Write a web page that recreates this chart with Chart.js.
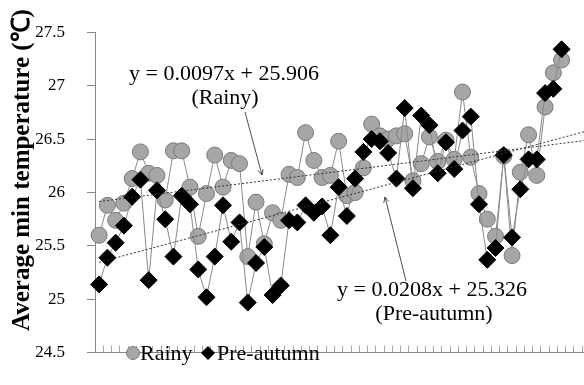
<!DOCTYPE html>
<html>
<head>
<meta charset="utf-8">
<script src="https://cdn.jsdelivr.net/npm/chart.js@4"></script>
<style>
  html, body { margin: 0; padding: 0; background: #fff; overflow: hidden; }
  #wrap { width: 584px; height: 385px; overflow: hidden; }
</style>
</head>
<body>
<div id="wrap"><canvas id="tempChart" width="600" height="385"></canvas></div>
<script>
// Average min temperature per year
const rainy = [
  25.60, 25.88, 25.74, 25.90, 26.13, 26.38, 26.18, 26.16, 25.93, 26.39,
  26.39, 26.05, 25.59, 25.99, 26.35, 26.05, 26.30, 26.27, 25.40, 25.91,
  25.52, 25.81, 25.74, 26.17, 26.14, 26.56, 26.30, 26.14, 26.16, 26.48,
  25.97, 26.00, 26.23, 26.64, 26.53, 26.50, 26.53, 26.55, 26.11, 26.27,
  26.52, 26.29, 26.49, 26.31, 26.94, 26.33, 25.99, 25.75, 25.59, 26.34,
  25.41, 26.19, 26.54, 26.16, 26.80, 27.12, 27.24,
];
const preAutumn = [
  25.14, 25.39, 25.53, 25.69, 25.96, 26.12, 25.18, 26.02, 25.75, 25.40,
  25.97, 25.89, 25.28, 25.02, 25.40, 25.88, 25.54, 25.72, 24.97, 25.34,
  25.49, 25.04, 25.13, 25.74, 25.72, 25.88, 25.81, 25.87, 25.60, 26.05,
  25.78, 26.13, 26.38, 26.50, 26.48, 26.37, 26.13, 26.79, 26.04, 26.72,
  26.63, 26.18, 26.47, 26.22, 26.58, 26.71, 25.89, 25.37, 25.48, 26.35,
  25.58, 26.03, 26.31, 26.31, 26.93, 26.97, 27.34,
];
const periodCount = 60; // category slots on the x axis (trend forecast runs past the data)
const yTicks = [24.5, 25, 25.5, 26, 26.5, 27, 27.5];

// Linear trendlines as printed on the figure
const trendSlopes = [0.0097, 0.0208];
const trendIntercepts = [25.906, 25.326];

const categories = Array.from({ length: periodCount }, (_, i) => i + 1);

// Trendline only needs its two end points, gaps are spanned
const trendData = (k) =>
  categories.map((x, i) =>
    i === 0 || i === periodCount - 1 ? trendIntercepts[k] + trendSlopes[k] * x : null
  );

const serif = "'Liberation Serif', 'Times New Roman', serif";

// Draw an arrow with a small open head
const drawArrow = (ctx, x1, y1, x2, y2) => {
  const ang = Math.atan2(y2 - y1, x2 - x1);
  ctx.beginPath();
  ctx.moveTo(x1, y1);
  ctx.lineTo(x2, y2);
  ctx.moveTo(x2 - 6 * Math.cos(ang - 0.45), y2 - 6 * Math.sin(ang - 0.45));
  ctx.lineTo(x2, y2);
  ctx.lineTo(x2 - 6 * Math.cos(ang + 0.45), y2 - 6 * Math.sin(ang + 0.45));
  ctx.stroke();
};

// Equations, arrows, legend and axis title
const annotationPlugin = {
  id: "annotations",
  afterDraw(chart) {
    const ctx = chart.ctx;
    ctx.save();
    ctx.fillStyle = "#000";
    ctx.font = `22px ${serif}`;
    ctx.textAlign = "center";
    ctx.textBaseline = "alphabetic";
    ctx.fillText("y = 0.0097x + 25.906", 224, 80);
    ctx.fillText("(Rainy)", 225, 104);
    ctx.fillText("y = 0.0208x + 25.326", 432, 296);
    ctx.fillText("(Pre-autumn)", 434, 320);

    ctx.strokeStyle = "#222";
    ctx.lineWidth = 0.8;
    drawArrow(ctx, 245, 112, 262, 175);
    drawArrow(ctx, 406, 281, 385, 197);

    // legend
    ctx.beginPath();
    ctx.arc(133, 353, 6.5, 0, Math.PI * 2);
    ctx.fillStyle = "#a6a6a6";
    ctx.fill();
    ctx.strokeStyle = "#7a7a7a";
    ctx.lineWidth = 1;
    ctx.stroke();
    ctx.beginPath();
    ctx.moveTo(208, 346);
    ctx.lineTo(215, 353);
    ctx.lineTo(208, 360);
    ctx.lineTo(201, 353);
    ctx.closePath();
    ctx.fillStyle = "#000";
    ctx.fill();
    ctx.textAlign = "left";
    ctx.fillText("Rainy", 140, 360);
    ctx.fillText("Pre-autumn", 217, 360);

    // y axis title
    ctx.translate(29, 170);
    ctx.rotate(-Math.PI / 2);
    ctx.textAlign = "center";
    ctx.font = `bold 25px ${serif}`;
    ctx.fillText("Average min temperature (\u2103)", 0, 0);
    ctx.restore();
  },
};

document.addEventListener("DOMContentLoaded", () => {
  const ctx = document.getElementById("tempChart").getContext("2d");
  new Chart(ctx, {
    type: "line",
    data: {
      labels: categories,
      datasets: [
        {
          label: "Rainy",
          data: rainy,
          order: 2,
          borderColor: "#8a8a8a",
          borderWidth: 1,
          pointStyle: "circle",
          pointRadius: 8,
          pointBackgroundColor: "#a6a6a6",
          pointBorderColor: "#7a7a7a",
          pointBorderWidth: 1,
        },
        {
          label: "Pre-autumn",
          data: preAutumn,
          order: 1,
          borderColor: "#8a8a8a",
          borderWidth: 1,
          pointStyle: "rectRot",
          pointRadius: 8.5,
          pointBackgroundColor: "#000",
          pointBorderColor: "#000",
          pointBorderWidth: 1,
        },
        {
          label: "Rainy trend",
          data: trendData(0),
          order: 0,
          spanGaps: true,
          borderColor: "#333",
          borderWidth: 1,
          borderDash: [2, 2],
          pointRadius: 0,
        },
        {
          label: "Pre-autumn trend",
          data: trendData(1),
          order: 0,
          spanGaps: true,
          borderColor: "#333",
          borderWidth: 1,
          borderDash: [2, 2],
          pointRadius: 0,
        },
      ],
    },
    options: {
      responsive: false,
      animation: false,
      layout: { padding: { top: 16, right: 4, left: 0, bottom: 0 } },
      plugins: { legend: { display: false }, tooltip: { enabled: false } },
      scales: {
        x: {
          type: "category",
          offset: true,
          grid: { offset: true, drawOnChartArea: false, tickLength: -7, color: "#a6a6a6" },
          border: { color: "#868686" },
          ticks: { display: false, autoSkip: false },
          afterFit: (s) => { s.height = 12; },
        },
        y: {
          min: 24.5,
          max: 27.5,
          afterBuildTicks: (s) => { s.ticks = yTicks.map((v) => ({ value: v })); },
          grid: { drawOnChartArea: false, tickLength: 8, color: "#868686" },
          border: { color: "#868686" },
          ticks: {
            padding: 22,
            color: "#000",
            font: { family: serif, size: 17 },
            callback: (v) => String(v),
          },
          afterFit: (s) => { s.width = 95; },
        },
      },
    },
    plugins: [annotationPlugin],
  });
});
</script>
</body>
</html>
